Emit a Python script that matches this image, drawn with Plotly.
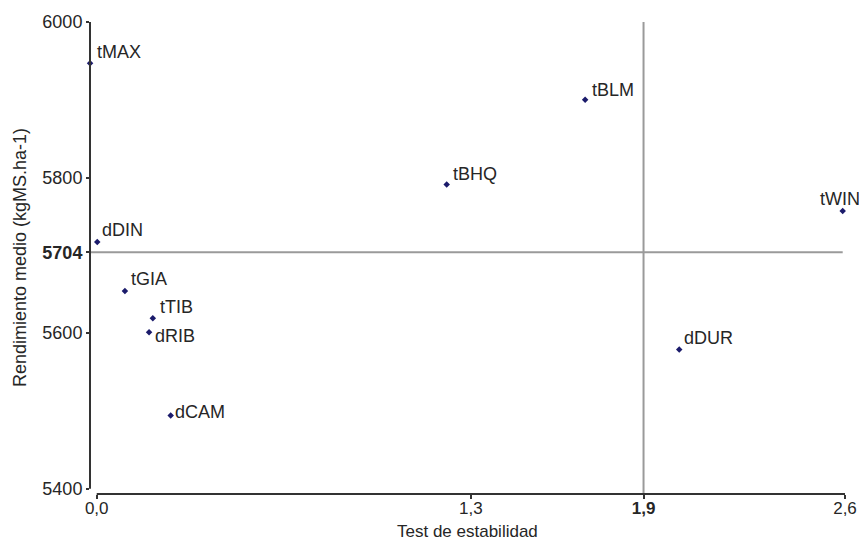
import plotly.graph_objects as go

# ---- data ----
labels = ["tMAX", "dDIN", "tGIA", "tTIB", "dRIB", "dCAM", "tBHQ", "tBLM", "tWIN", "dDUR"]
stability = [-0.023, 0.002, 0.098, 0.195, 0.182, 0.257, 1.216, 1.697, 2.592, 2.024]
yield_mean = [5947, 5717, 5654, 5619, 5601, 5494, 5791, 5900, 5757, 5579]

mean_yield = 5704
mean_stability = 1.9

x_tickvals = [0.0, 1.3, 1.9, 2.6]
x_ticktext = ["0,0", "1,3", "<b>1,9</b>", "2,6"]
y_tickvals = [5400, 5600, 5704, 5800, 6000]
y_ticktext = ["5400", "5600", "<b>5704</b>", "5800", "6000"]

x_title = "Test de estabilidad"
y_title = "Rendimiento medio (kgMS.ha-1)"

# label offsets in pixels (style only)
label_dx = [5, 3, 4, 5, 4, 2, 4, 5, -25, 3]
label_dy = [11, 12, 12, 11, -4, 4, 11, 10, 12, 11]

FONT = "Arial, Liberation Sans, sans-serif"
TXT = "#262626"
AX = "#333333"
REF = "#9a9a9a"
FS = 18

x_min, x_max = -0.0233, 2.6
y_min, y_max = 5393.1, 6000

fig = go.Figure()
fig.add_trace(go.Scatter(
    x=stability, y=yield_mean, mode="markers",
    marker=dict(symbol="diamond", size=5, color="#1b1b6b"),
    cliponaxis=False, hoverinfo="text", text=labels, showlegend=False,
))

for lab, xv, yv, dx, dy in zip(labels, stability, yield_mean, label_dx, label_dy):
    fig.add_annotation(x=xv, y=yv, text=lab, showarrow=False,
                       xanchor="left", yanchor="middle", xshift=dx, yshift=dy,
                       font=dict(family=FONT, size=FS, color=TXT))

# axis titles
fig.add_annotation(xref="paper", yref="paper", x=0.5, y=-0.0784, text=x_title,
                   showarrow=False, xanchor="center", yanchor="middle",
                   font=dict(family=FONT, size=17, color=TXT))
fig.add_annotation(xref="paper", yref="paper", x=-0.0927, y=0.5, text=y_title,
                   showarrow=False, xanchor="center", yanchor="middle", textangle=-90,
                   font=dict(family=FONT, size=FS, color=TXT))

# reference lines (means)
fig.add_shape(type="line", xref="x", x0=x_min, x1=max(stability), yref="y",
              y0=mean_yield, y1=mean_yield, line=dict(color=REF, width=2), layer="below")
fig.add_shape(type="line", xref="x", x0=mean_stability, x1=mean_stability, yref="y",
              y0=y_min, y1=y_max + 2, line=dict(color=REF, width=2), layer="below")

# detached axis lines
fig.add_shape(type="line", xref="paper", x0=0, x1=0, yref="y", y0=5400, y1=6000,
              line=dict(color=AX, width=2))
fig.add_shape(type="line", xref="x", x0=0, x1=2.6, yref="paper", y0=0, y1=0,
              line=dict(color=AX, width=2))

fig.update_layout(
    width=859, height=540,
    margin=dict(l=90, r=14, t=22, b=46),
    paper_bgcolor="white", plot_bgcolor="white",
    font=dict(family=FONT, size=FS, color=TXT),
    xaxis=dict(range=[x_min, x_max], showgrid=False, zeroline=False, showline=False,
               automargin=False,
               tickvals=x_tickvals, ticktext=x_ticktext, ticks="outside", ticklen=4,
               ticklabelstandoff=-5,
               tickwidth=1.5, tickcolor=AX, tickfont=dict(size=17)),
    yaxis=dict(range=[y_min, y_max], showgrid=False, zeroline=False, showline=False,
               automargin=False,
               tickvals=y_tickvals, ticktext=y_ticktext, ticks="outside", ticklen=3,
               tickwidth=1.5, tickcolor=AX, tickfont=dict(size=FS)),
)

fig.write_html("out.html")
